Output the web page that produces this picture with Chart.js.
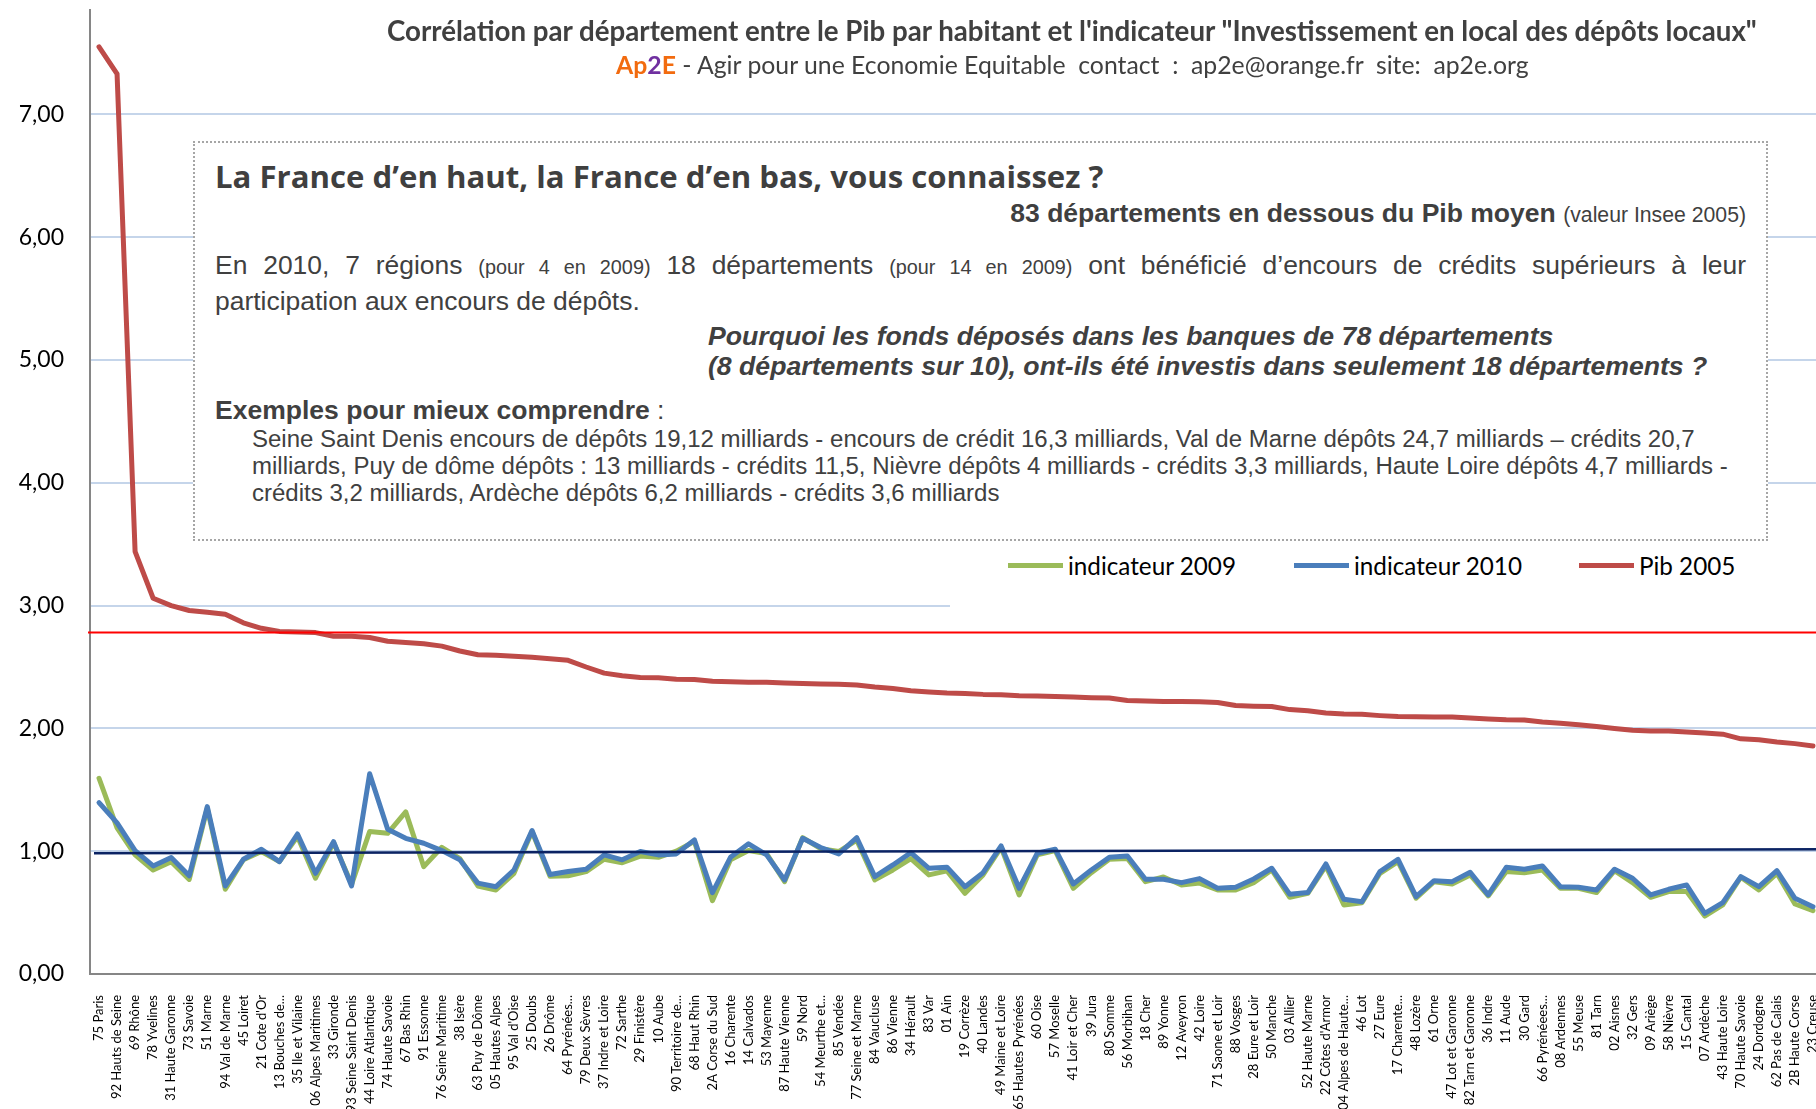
<!DOCTYPE html>
<html lang="fr">
<head>
<meta charset="utf-8">
<title>Pib par habitant et indicateur par département</title>
<script src="https://cdn.jsdelivr.net/npm/chart.js@4.4.1/dist/chart.umd.min.js"></script>
<style>
html, body { margin: 0; padding: 0; overflow: hidden; background: #fff; }
#page { position: relative; width: 1816px; height: 1109px; overflow: hidden; }
#myChart { position: absolute; left: 0; top: 0; }
.t { position: absolute; white-space: pre; color: #404040; }
#title { left: 387px; top: 16px; font: bold 24px Lato, sans-serif; line-height: 30px; }
#subtitle { left: 616px; top: 52px; font: 21px Lato, sans-serif; line-height: 26px; }
#subtitle .o { color: #F26B0F; font-weight: bold; }
#subtitle .v { color: #7030A0; font-weight: bold; }
#box { position: absolute; left: 193px; top: 141px; width: 1575px; height: 400px; box-sizing: border-box;
       border: 2px dotted #A6A6A6; background: #fff; }
#h1 { left: 215px; top: 159px; font: bold 26px "Open Sans", sans-serif; line-height: 34px; color: #3F3F3F; }
#moyen { right: 70px; top: 199px; font: bold 22px "Liberation Sans", Arial, sans-serif; line-height: 28px; color: #3F3F3F; }
#moyen small { font-weight: normal; font-size: 0.8em; }
.p { font-family: "Liberation Sans", Arial, sans-serif; font-size: 23px; line-height: 30px; left: 215px; }
.p small { font-size: 0.75em; }
#p1 { top: 250px; width: 1531px; white-space: normal; text-align: justify; text-align-last: justify; }
#p2 { top: 286px; }
.q { left: 708px; font: italic bold 22px "Liberation Sans", Arial, sans-serif; line-height: 30px; }
#q1 { top: 321px; }
#q2 { top: 351px; }
#ex { left: 215px; top: 395px; font: 23px "Liberation Sans", Arial, sans-serif; line-height: 30px; }
.ind { left: 252px; font: 20px "Liberation Sans", Arial, sans-serif; line-height: 27px; }
#legend { position: absolute; left: 950px; top: 546px; width: 866px; height: 64px; background: #fff; }
.swatch { position: absolute; height: 5px; top: 17px; }
.lt { position: absolute; top: 7px; white-space: pre; font: 21px Lato, sans-serif; line-height: 26px; color: #000; }
</style>
</head>
<body>
<div id="page">
  <canvas id="myChart" width="1830" height="1109"></canvas>

  <div id="title" class="t">Corrélation par département entre le Pib par habitant et l'indicateur "Investissement en local des dépôts locaux"</div>
  <div id="subtitle" class="t"><span class="o">Ap</span><span class="v">2</span><span class="o">E</span> - Agir pour une Economie Equitable  contact  :  ap2e@orange.fr  site:  ap2e.org</div>

  <div id="box"></div>
  <div id="h1" class="t">La France d’en haut, la France d’en bas, vous connaissez ?</div>
  <div id="moyen" class="t">83 départements en dessous du Pib moyen <small>(valeur Insee 2005)</small></div>
  <div id="p1" class="t p">En 2010, 7 régions <small>(pour 4 en 2009)</small> 18 départements <small>(pour 14 en 2009)</small> ont bénéficié d’encours de crédits supérieurs à leur</div>
  <div id="p2" class="t p">participation aux encours de dépôts.</div>
  <div id="q1" class="t q">Pourquoi les fonds déposés dans les banques de 78 départements</div>
  <div id="q2" class="t q">(8 départements sur 10), ont-ils été investis dans seulement 18 départements ?</div>
  <div id="ex" class="t"><b id="exb">Exemples pour mieux comprendre</b> :</div>
  <div id="ind1" class="t ind" style="top:425px">Seine Saint Denis encours de dépôts 19,12 milliards - encours de crédit 16,3 milliards, Val de Marne dépôts 24,7 milliards – crédits 20,7</div>
  <div id="ind2" class="t ind" style="top:452px">milliards, Puy de dôme dépôts : 13 milliards - crédits 11,5, Nièvre dépôts 4 milliards - crédits 3,3 milliards, Haute Loire dépôts 4,7 milliards -</div>
  <div id="ind3" class="t ind" style="top:479px">crédits 3,2 milliards, Ardèche dépôts 6,2 milliards - crédits 3,6 milliards</div>

  <div id="legend"></div>
</div>

<script>
let departements = ['75 Paris', '92 Hauts de Seine', '69 Rhône', '78 Yvelines', '31 Haute Garonne', '73 Savoie',
  '51 Marne', '94 Val de Marne', '45 Loiret', "21 Cote d'Or", '13 Bouches de...', '35 Ile et Vilaine',
  '06 Alpes Maritimes', '33 Gironde', '93 Seine Saint Denis', '44 Loire Atlantique', '74 Haute Savoie', '67 Bas Rhin',
  '91 Essonne', '76 Seine Maritime', '38 Isère', '63 Puy de Dôme', '05 Hautes Alpes', "95 Val d'Oise",
  '25 Doubs', '26 Drôme', '64 Pyrénées...', '79 Deux Sèvres', '37 Indre et Loire', '72 Sarthe',
  '29 Finistère', '10 Aube', '90 Territoire de...', '68 Haut Rhin', '2A Corse du Sud', '16 Charente',
  '14 Calvados', '53 Mayenne', '87 Haute Vienne', '59 Nord', '54 Meurthe et...', '85 Vendée',
  '77 Seine et Marne', '84 Vaucluse', '86 Vienne', '34 Hérault', '83 Var', '01 Ain',
  '19 Corrèze', '40 Landes', '49 Maine et Loire', '65 Hautes Pyrénées', '60 Oise', '57 Moselle',
  '41 Loir et Cher', '39 Jura', '80 Somme', '56 Morbihan', '18 Cher', '89 Yonne',
  '12 Aveyron', '42 Loire', '71 Saone et Loir', '88 Vosges', '28 Eure et Loir', '50 Manche',
  '03 Allier', '52 Haute Marne', "22 Côtes d'Armor", '04 Alpes de Haute...', '46 Lot', '27 Eure',
  '17 Charente...', '48 Lozère', '61 Orne', '47 Lot et Garonne', '82 Tarn et Garonne', '36 Indre',
  '11 Aude', '30 Gard', '66 Pyrénéees...', '08 Ardennes', '55 Meuse', '81 Tarn',
  '02 Aisnes', '32 Gers', '09 Ariège', '58 Nièvre', '15 Cantal', '07 Ardèche',
  '43 Haute Loire', '70 Haute Savoie', '24 Dordogne', '62 Pas de Calais', '2B Haute Corse', '23 Creuse'];

let pib2005 = [7.55, 7.33, 3.44, 3.06, 3.00, 2.96, 2.945, 2.93, 2.86, 2.815,
  2.79, 2.785, 2.78, 2.75, 2.75, 2.74, 2.71, 2.70, 2.69, 2.67,
  2.63, 2.60, 2.595, 2.587, 2.579, 2.568, 2.554, 2.50, 2.45, 2.428,
  2.414, 2.413, 2.40, 2.398, 2.384, 2.379, 2.376, 2.376, 2.37, 2.365,
  2.362, 2.36, 2.354, 2.337, 2.324, 2.307, 2.296, 2.288, 2.285, 2.277,
  2.274, 2.266, 2.263, 2.26, 2.255, 2.25, 2.247, 2.227, 2.224, 2.219,
  2.219, 2.216, 2.211, 2.187, 2.181, 2.178, 2.153, 2.143, 2.126, 2.118,
  2.115, 2.104, 2.096, 2.094, 2.092, 2.092, 2.085, 2.077, 2.071, 2.069,
  2.052, 2.041, 2.03, 2.016, 2.0, 1.984, 1.978, 1.978, 1.97, 1.963,
  1.953, 1.915, 1.908, 1.89, 1.876, 1.857];

let indicateur2009 = [1.594, 1.19, 0.97, 0.847, 0.915, 0.77, 1.35, 0.69, 0.93, 0.997,
  0.915, 1.12, 0.78, 1.07, 0.73, 1.16, 1.146, 1.32, 0.874, 1.032,
  0.94, 0.717, 0.684, 0.82, 1.16, 0.795, 0.80, 0.834, 0.934, 0.906,
  0.96, 0.95, 1.0, 1.08, 0.597, 0.93, 1.005, 0.98, 0.752, 1.11,
  1.02, 0.997, 1.09, 0.766, 0.847, 0.94, 0.807, 0.84, 0.657, 0.807,
  1.032, 0.644, 0.97, 1.005, 0.698, 0.825, 0.934, 0.94, 0.752, 0.79,
  0.725, 0.74, 0.684, 0.684, 0.744, 0.847, 0.625, 0.657, 0.88, 0.562,
  0.58, 0.82, 0.915, 0.617, 0.752, 0.733, 0.807, 0.636, 0.834, 0.825,
  0.847, 0.698, 0.698, 0.663, 0.842, 0.744, 0.625, 0.671, 0.671, 0.472,
  0.562, 0.788, 0.684, 0.82, 0.57, 0.516];

let indicateur2010 = [1.396, 1.23, 1.005, 0.88, 0.948, 0.80, 1.363, 0.717, 0.934, 1.016,
  0.915, 1.14, 0.82, 1.078, 0.717, 1.63, 1.178, 1.105, 1.065, 1.005,
  0.93, 0.74, 0.711, 0.847, 1.168, 0.81, 0.834, 0.853, 0.97, 0.93,
  0.997, 0.97, 0.978, 1.092, 0.663, 0.95, 1.06, 0.97, 0.766, 1.105,
  1.03, 0.978, 1.11, 0.793, 0.888, 0.988, 0.861, 0.87, 0.711, 0.825,
  1.043, 0.698, 0.983, 1.016, 0.733, 0.847, 0.95, 0.961, 0.771, 0.771,
  0.744, 0.777, 0.698, 0.706, 0.774, 0.861, 0.649, 0.663, 0.896, 0.608,
  0.589, 0.834, 0.934, 0.63, 0.76, 0.752, 0.828, 0.644, 0.869, 0.853,
  0.88, 0.711, 0.706, 0.684, 0.853, 0.78, 0.644, 0.69, 0.725, 0.494,
  0.581, 0.793, 0.711, 0.842, 0.616, 0.548];

// reference lines: average Pib, and the "balance" line around 1
let moyennePib = 2.78;
let ligneEquilibre = [0.983, 1.016];

let seriesNames = ['indicateur 2009', 'indicateur 2010', 'Pib 2005'];
let seriesColors = ['#9BBB59', '#4A7EBB', '#BE4B48'];

// fit text widths to the reference (font substitutes differ in width)
function fitFont(el, target) {
  let w = el.getBoundingClientRect().width;
  let size = parseFloat(getComputedStyle(el).fontSize);
  let s = size * target / w;
  el.style.fontSize = s + 'px';
  return s;
}
fitFont(document.getElementById('title'), 1370);
fitFont(document.getElementById('subtitle'), 913);
fitFont(document.getElementById('h1'), 889);
fitFont(document.getElementById('moyen'), 736);
let pSize = fitFont(document.getElementById('p2'), 425);
document.getElementById('p1').style.fontSize = pSize + 'px';
let qSize = fitFont(document.getElementById('q2'), 1000);
document.getElementById('q1').style.fontSize = qSize + 'px';
let exb = document.getElementById('exb');
let exSize = parseFloat(getComputedStyle(exb).fontSize) * 435 / exb.getBoundingClientRect().width;
document.getElementById('ex').style.fontSize = exSize + 'px';
let indSize = fitFont(document.getElementById('ind1'), 1444);
document.getElementById('ind2').style.fontSize = indSize + 'px';
document.getElementById('ind3').style.fontSize = indSize + 'px';

// legend
let legend = document.getElementById('legend');
let legendX = [58, 344, 629];
seriesNames.forEach(function (name, i) {
  let sw = document.createElement('div');
  sw.className = 'swatch';
  sw.style.left = legendX[i] + 'px';
  sw.style.width = '55px';
  sw.style.background = seriesColors[i];
  legend.appendChild(sw);
  let lt = document.createElement('div');
  lt.className = 'lt';
  lt.style.left = (legendX[i] + 60) + 'px';
  lt.textContent = name;
  legend.appendChild(lt);
});
let lts = legend.querySelectorAll('.lt');
let ltSize = fitFont(lts[0], 168);
lts.forEach(function (el) { el.style.fontSize = ltSize + 'px'; });

let refLines = {
  id: 'refLines',
  afterDatasetsDraw(chart) {
    let ctx = chart.ctx;
    let a = chart.chartArea;
    let y = chart.scales.y;
    ctx.save();
    ctx.lineWidth = 2;
    ctx.strokeStyle = '#FF0000';
    ctx.beginPath();
    ctx.moveTo(a.left - 2, y.getPixelForValue(moyennePib));
    ctx.lineTo(a.right, y.getPixelForValue(moyennePib));
    ctx.stroke();
    ctx.lineWidth = 2.5;
    ctx.strokeStyle = '#0B2363';
    ctx.beginPath();
    ctx.moveTo(a.left + 4, y.getPixelForValue(ligneEquilibre[0]));
    ctx.lineTo(a.right, y.getPixelForValue(ligneEquilibre[1]));
    ctx.stroke();
    ctx.restore();
  }
};

let linechart = document.getElementById('myChart').getContext('2d');

let chart = new Chart(linechart, {
  type: 'line',
  data: {
    labels: departements,
    datasets: [
      { label: seriesNames[0], data: indicateur2009, borderColor: seriesColors[0], order: 3 },
      { label: seriesNames[1], data: indicateur2010, borderColor: seriesColors[1], order: 2 },
      { label: seriesNames[2], data: pib2005, borderColor: seriesColors[2], order: 1 }
    ]
  },
  options: {
    responsive: false,
    animation: false,
    devicePixelRatio: 1,
    layout: { padding: { top: 10, right: 8, left: 0, bottom: 0 } },
    elements: {
      point: { radius: 0, hoverRadius: 0 },
      line: { borderWidth: 5, tension: 0, borderJoinStyle: 'round', borderCapStyle: 'round', fill: false }
    },
    plugins: {
      legend: { display: false },
      tooltip: { enabled: false }
    },
    scales: {
      x: {
        offset: true,
        grid: { display: false },
        border: { color: '#868686', width: 2 },
        ticks: {
          autoSkip: false,
          minRotation: 90,
          maxRotation: 90,
          padding: 13,
          color: '#000',
          font: { family: 'Lato', size: 13 }
        },
        afterFit: function (s) { s.height = 135; s.paddingLeft = 0; s.paddingRight = 0; }
      },
      y: {
        min: 0,
        max: 7.85,
        grid: { color: '#C5D5EA', lineWidth: 2, drawTicks: false },
        border: { color: '#868686', width: 2 },
        ticks: {
          stepSize: 1,
          includeBounds: false,
          padding: 26,
          color: '#000',
          font: { family: 'Lato', size: 23 },
          callback: function (v) { return v.toFixed(2).replace('.', ','); }
        },
        afterFit: function (s) { s.width = 90; s.paddingTop = 0; s.paddingBottom = 0; }
      }
    }
  },
  plugins: [refLines]
});
</script>
</body>
</html>
